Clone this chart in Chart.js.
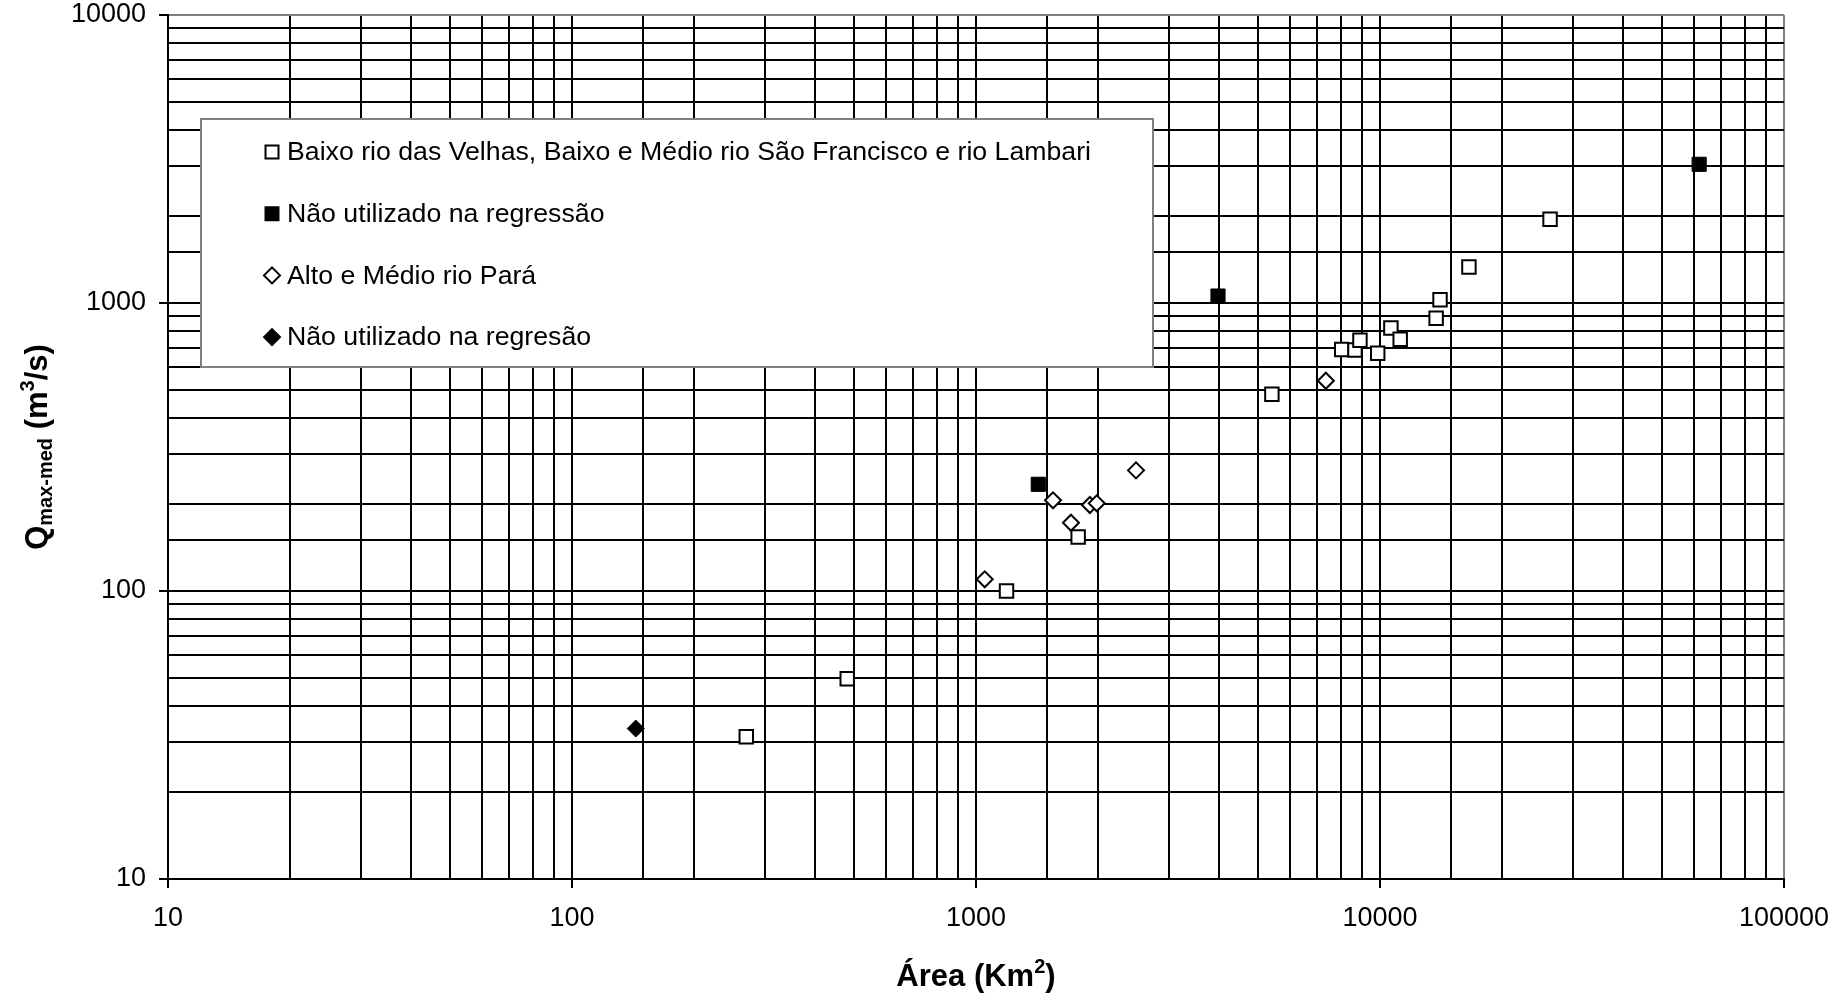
<!DOCTYPE html>
<html>
<head>
<meta charset="utf-8">
<script src="https://cdn.jsdelivr.net/npm/chart.js@4.4.1/dist/chart.umd.min.js"></script>
<style>
  html, body { margin: 0; padding: 0; background: #ffffff; }
  #wrap { width: 1843px; height: 1001px; position: relative; }
</style>
</head>
<body>
<div id="wrap"><canvas id="c" width="1843" height="1001"></canvas></div>
<script>
// Drainage area (km²) and mean annual maximum discharge (m³/s) per station group
const seriesLabels = [
  'Baixo rio das Velhas, Baixo e Médio rio São Francisco e rio Lambari',
  'Não utilizado na regressão',
  'Alto e Médio rio Pará',
  'Não utilizado na regresão'
];

const areaBaixo = [270, 480, 1190, 1790, 5400, 8040, 8670, 8920, 9870, 10640, 11220, 13770, 14080, 16600, 26360];
const qBaixo    = [31.2, 49.6, 100, 154, 482, 690, 687, 742, 669, 819, 748, 885, 1027, 1334, 1953];

const areaExcluidaSq = [1426, 3972, 61660];
const qExcluidaSq    = [234.7, 1057, 3031];

const areaPara = [1051, 1551, 1718, 1914, 1990, 2489, 7345];
const qPara    = [109.8, 206.5, 172.6, 198.9, 201.6, 262.4, 537];

const areaExcluidaDm = [143.8];
const qExcluidaDm    = [33.3];

const xTickLabels = ['10', '100', '1000', '10000', '100000'];
const yTickLabels = ['10', '100', '1000', '10000'];

const FONT = '"Liberation Sans", Arial, Helvetica, sans-serif';

function toPoints(xs, ys) {
  return xs.map((x, i) => ({ x: x, y: ys[i] }));
}

const datasets = [
  { label: seriesLabels[0], data: toPoints(areaBaixo, qBaixo), pointStyle: 'rect',
    pointRadius: 9.5, backgroundColor: '#ffffff', borderColor: '#000000', borderWidth: 2 },
  { label: seriesLabels[1], data: toPoints(areaExcluidaSq, qExcluidaSq), pointStyle: 'rect',
    pointRadius: 10, backgroundColor: '#000000', borderColor: '#000000', borderWidth: 1 },
  { label: seriesLabels[2], data: toPoints(areaPara, qPara), pointStyle: 'rectRot',
    pointRadius: 8, backgroundColor: '#ffffff', borderColor: '#000000', borderWidth: 2 },
  { label: seriesLabels[3], data: toPoints(areaExcluidaDm, qExcluidaDm), pointStyle: 'rectRot',
    pointRadius: 8.5, backgroundColor: '#000000', borderColor: '#000000', borderWidth: 1 }
];

function isDecade(value) {
  const l = Math.log10(value);
  return Math.abs(l - Math.round(l)) < 1e-6;
}

function decadeLabel(value, labels) {
  if (!isDecade(value)) return '';
  const s = String(Math.round(value));
  return labels.indexOf(s) >= 0 ? s : '';
}

// Boxed legend drawn inside the plot area, over the grid
const legendBox = {
  id: 'legendBox',
  afterDraw(chart) {
    const { ctx, chartArea } = chart;
    const x0 = chartArea.left + 33;
    const y0 = chartArea.top + 104;
    const w = 952, h = 248;
    ctx.save();
    ctx.fillStyle = '#ffffff';
    ctx.fillRect(x0, y0, w, h);
    ctx.strokeStyle = '#808080';
    ctx.lineWidth = 2;
    ctx.strokeRect(x0, y0, w, h);

    ctx.font = '26.7px ' + FONT;
    ctx.textBaseline = 'middle';
    ctx.textAlign = 'left';
    chart.data.datasets.forEach((ds, i) => {
      const cy = y0 + 33 + i * 61.7;
      const cx = x0 + 71;
      ctx.fillStyle = ds.backgroundColor;
      ctx.strokeStyle = ds.borderColor;
      ctx.lineWidth = 2;
      ctx.beginPath();
      if (ds.pointStyle === 'rect') {
        const s = 6.5;
        ctx.rect(cx - s, cy - s, 2 * s, 2 * s);
      } else {
        const r = 8;
        ctx.moveTo(cx - r, cy);
        ctx.lineTo(cx, cy - r);
        ctx.lineTo(cx + r, cy);
        ctx.lineTo(cx, cy + r);
        ctx.closePath();
      }
      ctx.fill();
      ctx.stroke();
      ctx.fillStyle = '#000000';
      ctx.fillText(ds.label, x0 + 86, cy + 1);
    });
    ctx.restore();
  }
};

// Axis titles with sub/superscripts
function drawRich(ctx, segs, x, y, align) {
  let total = 0;
  segs.forEach(s => {
    ctx.font = 'bold ' + s.size + 'px ' + FONT;
    s.w = ctx.measureText(s.t).width;
    total += s.w;
  });
  let cx = align === 'center' ? x - total / 2 : x;
  segs.forEach(s => {
    ctx.font = 'bold ' + s.size + 'px ' + FONT;
    ctx.fillText(s.t, cx, y + (s.dy || 0));
    cx += s.w;
  });
}

const axisTitles = {
  id: 'axisTitles',
  afterDraw(chart) {
    const { ctx, chartArea } = chart;
    ctx.save();
    ctx.fillStyle = '#000000';
    ctx.textBaseline = 'alphabetic';
    ctx.textAlign = 'left';
    const xc = (chartArea.left + chartArea.right) / 2;
    drawRich(ctx, [
      { t: 'Área (Km', size: 31 },
      { t: '2', size: 20, dy: -13 },
      { t: ')', size: 31 }
    ], xc, 986, 'center');

    const yc = (chartArea.top + chartArea.bottom) / 2;
    ctx.translate(47, yc);
    ctx.rotate(-Math.PI / 2);
    drawRich(ctx, [
      { t: 'Q', size: 31 },
      { t: 'max-med', size: 20, dy: 5 },
      { t: ' (m', size: 31 },
      { t: '3', size: 20, dy: -13 },
      { t: '/s)', size: 31 }
    ], 0, 0, 'center');
    ctx.restore();
  }
};

function gridColor(edgeValue) {
  return (c) => {
    if (!c.tick) return '#000000';
    return Math.abs(c.tick.value - edgeValue) < 1e-6 ? '#808080' : '#000000';
  };
}

function tickColor(c) {
  if (!c.tick) return '#000000';
  return isDecade(c.tick.value) ? '#000000' : 'rgba(0,0,0,0)';
}

new Chart(document.getElementById('c').getContext('2d'), {
  type: 'scatter',
  data: { datasets: datasets },
  options: {
    responsive: false,
    animation: false,
    events: [],
    layout: { padding: { top: 15, right: 59, left: 0, bottom: 0 } },
    plugins: {
      legend: { display: false },
      tooltip: { enabled: false }
    },
    scales: {
      x: {
        type: 'logarithmic',
        position: 'bottom',
        min: 10,
        max: 100000,
        afterFit(scale) {
          scale.height = 122;
          scale.paddingLeft = 0;
          scale.paddingRight = 0;
        },
        border: { color: '#000000', width: 2 },
        grid: { color: gridColor(100000), lineWidth: 2, tickLength: 9, tickColor: tickColor, tickWidth: 2 },
        ticks: {
          autoSkip: false,
          maxRotation: 0,
          minRotation: 0,
          padding: 14,
          color: '#000000',
          font: { family: FONT, size: 27 },
          callback: (v) => decadeLabel(v, xTickLabels)
        }
      },
      y: {
        type: 'logarithmic',
        position: 'left',
        min: 10,
        max: 10000,
        afterFit(scale) {
          scale.width = 168;
          scale.paddingTop = 0;
          scale.paddingBottom = 0;
        },
        border: { color: '#000000', width: 2 },
        grid: { color: gridColor(10000), lineWidth: 2, tickLength: 9, tickColor: tickColor, tickWidth: 2 },
        ticks: {
          autoSkip: false,
          padding: 13,
          color: '#000000',
          font: { family: FONT, size: 27 },
          callback: (v) => decadeLabel(v, yTickLabels)
        }
      }
    }
  },
  plugins: [legendBox, axisTitles]
});
</script>
</body>
</html>
